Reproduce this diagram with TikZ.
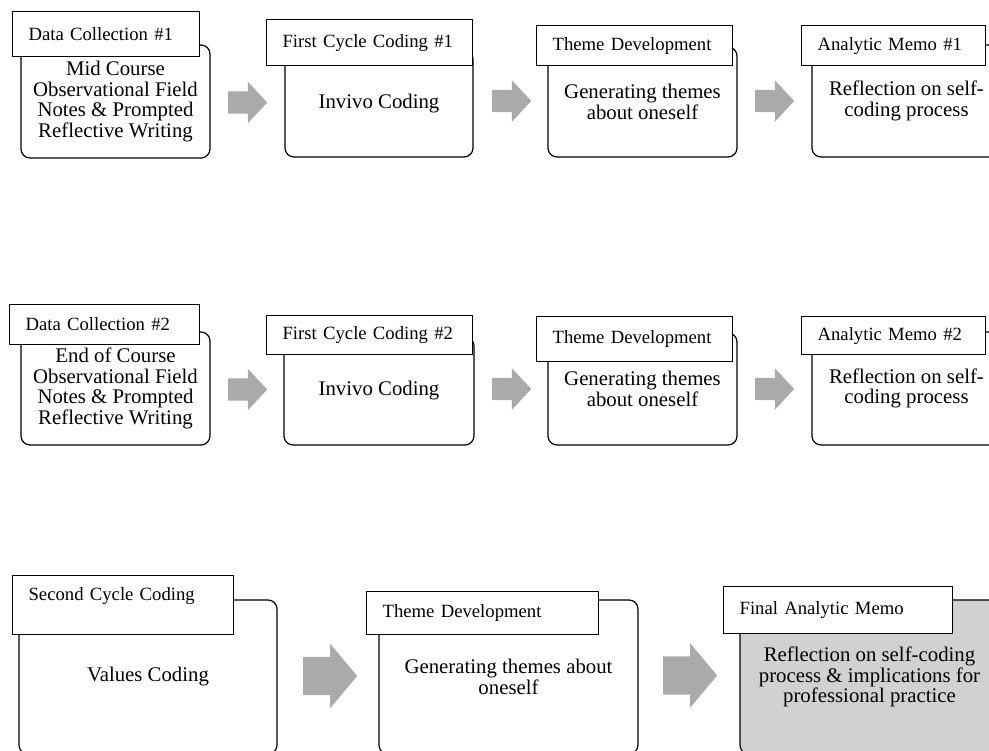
\documentclass[tikz,border=0pt]{standalone}
\usepackage{fontspec}
\setmainfont{Liberation Serif}
\usepackage{xcolor}
\usetikzlibrary{shapes.arrows}
\definecolor{arrowgray}{RGB}{170,170,170}
\definecolor{memogray}{RGB}{209,209,209}
\newcommand{\bodyfont}{\fontsize{20.8pt}{20.5pt}\selectfont}
\newcommand{\tagfont}{\fontsize{18.7pt}{20pt}\selectfont}

\begin{document}
\begin{tikzpicture}[x=1pt, y=-1pt,
  body/.style={draw, line width=1.2pt, rounded corners=9pt, fill=white, align=center, font=\bodyfont, inner sep=0pt},
  tag/.style={draw, line width=1.2pt, fill=white, anchor=north west, align=left, font=\tagfont, inner xsep=16pt, inner ysep=0pt},
  bigarrow/.style={single arrow, fill=arrowgray, draw=none, inner xsep=0pt, inner ysep=11pt, anchor=tail, minimum height=39pt, single arrow head extend=9.5pt, single arrow tip angle=94},
  widearrow/.style={bigarrow, inner ysep=19pt, minimum height=54pt, single arrow head extend=13pt, single arrow tip angle=100}]
  \useasboundingbox (0,0) rectangle (989,751);
  \clip (0,0) rectangle (989,751);

  \node[body, minimum width=189pt, minimum height=113pt] (dc1) at (115.5,101.5) {Mid Course\\Observational Field\\Notes \& Prompted\\Reflective Writing};
  \node[body, minimum width=188pt, minimum height=107pt] (fc1) at (379,103.5) {Invivo Coding};
  \node[body, minimum width=189pt, minimum height=110pt] (td1) at (642.5,102) {Generating themes\\about oneself};
  \node[body, minimum width=189pt, minimum height=112pt] (am1) at (906.5,101) {Reflection on self-\\coding process};
  \node[tag, text width=155pt, minimum height=45pt] (dc1t) at (12,11) {Data Collection \#1};
  \node[tag, text width=174pt, minimum height=46pt] (fc1t) at (266,19) {First Cycle Coding \#1};
  \node[tag, text width=164pt, minimum height=40pt] (td1t) at (536,25) {Theme Development};
  \node[tag, text width=152pt, minimum height=40pt] (am1t) at (801,25) {Analytic Memo \#1};
  \node[bigarrow] (a11) at (228,102.5) {};
  \node[bigarrow] (a12) at (492,101) {};
  \node[bigarrow] (a13) at (755,101) {};

  \node[body, minimum width=189pt, minimum height=113pt] (dc2) at (115.5,388.5) {End of Course\\Observational Field\\Notes \& Prompted\\Reflective Writing};
  \node[body, minimum width=190pt, minimum height=108pt] (fc2) at (379,391) {Invivo Coding};
  \node[body, minimum width=189pt, minimum height=112pt] (td2) at (642.5,389) {Generating themes\\about oneself};
  \node[body, minimum width=189pt, minimum height=113pt] (am2) at (906.5,388.5) {Reflection on self-\\coding process};
  \node[tag, text width=158pt, minimum height=40pt] (dc2t) at (9,304) {Data Collection \#2};
  \node[tag, text width=174pt, minimum height=39pt] (fc2t) at (266,315) {First Cycle Coding \#2};
  \node[tag, text width=164pt, minimum height=45pt] (td2t) at (536,316) {Theme Development};
  \node[tag, text width=152pt, minimum height=38pt] (am2t) at (801,316) {Analytic Memo \#2};
  \node[bigarrow] (a21) at (228,389.5) {};
  \node[bigarrow] (a22) at (492,389) {};
  \node[bigarrow] (a23) at (755,389) {};

  \node[body, minimum width=258pt, minimum height=154pt] (sc) at (148,677) {Values Coding};
  \node[body, minimum width=259pt, minimum height=154pt] (td3) at (508.5,677) {Generating themes about\\oneself};
  \node[body, minimum width=259pt, minimum height=154pt, fill=memogray] (fm) at (869.5,677) {Reflection on self-coding\\process \& implications for\\professional practice};
  \node[tag, text width=189pt, minimum height=59pt, text depth=22pt] (sct) at (12,575) {Second Cycle Coding};
  \node[tag, text width=200pt, minimum height=43pt] (td3t) at (366,591) {Theme Development};
  \node[tag, text width=197pt, minimum height=47pt] (fmt) at (723,586) {Final Analytic Memo};
  \node[widearrow] (a31) at (303,676) {};
  \node[widearrow] (a32) at (663,675.5) {};
\end{tikzpicture}
\end{document}
